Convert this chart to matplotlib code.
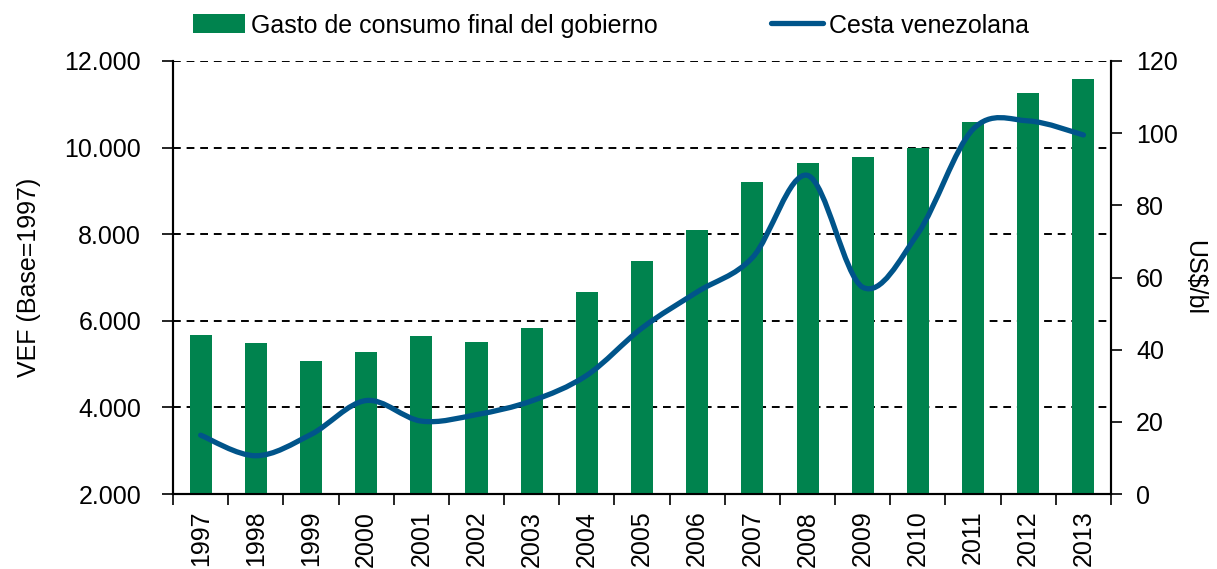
import matplotlib
matplotlib.use("Agg")
import matplotlib.pyplot as plt
from matplotlib.path import Path
from matplotlib.patches import PathPatch
from matplotlib.lines import Line2D
from matplotlib.patches import Patch
from matplotlib.ticker import FuncFormatter

plt.rcParams['font.family'] = ['Liberation Sans', 'DejaVu Sans']

years = ['1997', '1998', '1999', '2000', '2001', '2002', '2003', '2004', '2005',
         '2006', '2007', '2008', '2009', '2010', '2011', '2012', '2013']
gasto = [5680, 5490, 5080, 5290, 5660, 5520, 5830, 6670, 7380,
         8100, 9210, 9640, 9790, 10000, 10600, 11270, 11580]
cesta = [16.3, 10.6, 16.5, 25.9, 20.2, 22.0, 25.8, 32.9, 46.0,
         56.0, 65.5, 88.3, 57.3, 72.2, 101.1, 103.4, 99.5]

green = '#00834E'
blue = '#00548A'
fs = 18

fig = plt.figure(figsize=(12.17, 5.69), dpi=100)
ax = fig.add_axes([0.1422, 0.1318, 0.9129 - 0.1422, 0.8928 - 0.1318])
ax2 = ax.twinx()

x = list(range(len(years)))
ax.bar(x, gasto, width=0.4, color=green, zorder=3)
ax.set_xlim(-0.5, len(years) - 0.5)
ax.set_ylim(2000, 12000)
ax.set_yticks([2000, 4000, 6000, 8000, 10000, 12000])
ax.yaxis.set_major_formatter(FuncFormatter(lambda v, p: f"{int(v):,}".replace(",", ".")))
ax.grid(axis='y', color='black', linestyle=(0, (4, 3)), linewidth=1.4, zorder=0)

# category boundaries as ticks, labels at centres
ax.set_xticks([i - 0.5 for i in range(len(years) + 1)])
ax.set_xticklabels([])
ax.set_xticks(x, minor=True)
ax.set_xticklabels(years, minor=True, rotation=90)
ax.tick_params(axis='x', which='major', direction='out', length=8, width=1.2)
ax.tick_params(axis='x', which='minor', length=0, pad=12, labelsize=fs)
ax.tick_params(axis='y', direction='out', length=8, width=1.2, labelsize=fs, pad=15)

ax2.set_ylim(0, 120)
ax2.set_yticks(range(0, 121, 20))
ax2.tick_params(axis='y', direction='out', length=8, width=1.2, labelsize=fs, pad=10)

for a in (ax, ax2):
    a.spines['top'].set_visible(False)
    for s in ('left', 'right', 'bottom'):
        a.spines[s].set_linewidth(1.5)

# smoothed line (Excel-style Catmull-Rom bezier through the data points)
verts = [(x[0], cesta[0])]
codes = [Path.MOVETO]
n = len(x)
for i in range(n - 1):
    p0 = (x[max(i - 1, 0)], cesta[max(i - 1, 0)])
    p1 = (x[i], cesta[i])
    p2 = (x[i + 1], cesta[i + 1])
    p3 = (x[min(i + 2, n - 1)], cesta[min(i + 2, n - 1)])
    c1 = (p1[0] + (p2[0] - p0[0]) / 6, p1[1] + (p2[1] - p0[1]) / 6)
    c2 = (p2[0] - (p3[0] - p1[0]) / 6, p2[1] - (p3[1] - p1[1]) / 6)
    verts += [c1, c2, p2]
    codes += [Path.CURVE4] * 3
ax2.add_patch(PathPatch(Path(verts, codes), facecolor='none', edgecolor=blue,
                        linewidth=3.8, capstyle='round', zorder=4))

ax.set_ylabel('VEF (Base=1997)', fontsize=fs, labelpad=17)
ax2.set_ylabel('US$/bl', fontsize=fs, rotation=270, labelpad=20)

handles = [Patch(facecolor=green), Line2D([0], [0], color=blue, linewidth=3.8, solid_capstyle='round')]
fig.legend(handles, ['Gasto de consumo final del gobierno', 'Cesta venezolana'],
           loc='center', bbox_to_anchor=(0.502, 0.955), ncol=2, frameon=False,
           fontsize=fs, handlelength=2.1, handletextpad=0.25, columnspacing=4.5,
           handleheight=0.8)

fig.savefig('out.png', dpi=100)
